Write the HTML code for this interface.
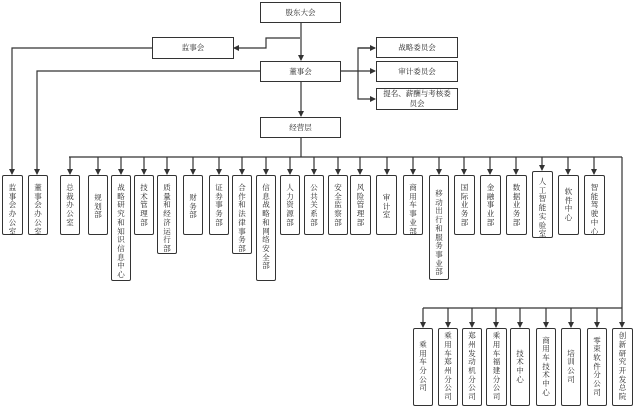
<!DOCTYPE html>
<html><head><meta charset="utf-8"><style>
body{margin:0;background:#fff;}
#c{position:relative;width:634px;height:417px;overflow:hidden;font-family:"Liberation Serif","Noto Serif CJK SC",serif;color:#222;}
.h{position:absolute;border:1.3px solid #333;box-sizing:border-box;background:#fff;font-size:7.5px;display:flex;align-items:center;justify-content:center;text-align:center;line-height:10px;}
.v{position:absolute;border:1.3px solid #333;border-radius:2px;box-sizing:border-box;background:#fff;font-size:7.5px;line-height:8.7px;padding-top:8px;text-align:center;white-space:nowrap;display:flex;flex-direction:column;align-items:center;justify-content:flex-start;}
.b{justify-content:center;padding-top:0;}
svg{position:absolute;left:0;top:0;}
</style></head><body><div id="c">
<svg width="634" height="417">
<defs><marker id="a" markerWidth="6" markerHeight="6" refX="5" refY="3" orient="auto" markerUnits="userSpaceOnUse"><path d="M0,0L6,3L0,6z" fill="#333"/></marker></defs>
<g stroke="#333" stroke-width="1.2" fill="none">
<line x1="301" y1="23" x2="301" y2="60" marker-end="url(#a)"/>
<polyline points="300,38 266,38 266,48 234,48" marker-end="url(#a)"/>
<polyline points="152,48 12,48 12,174" marker-end="url(#a)"/>
<polyline points="260,71 37,71 37,174" marker-end="url(#a)"/>
<line x1="301" y1="82" x2="301" y2="116" marker-end="url(#a)"/>
<line x1="341" y1="71" x2="375" y2="71" marker-end="url(#a)"/>
<polyline points="375,48 358,48 358,99 375,99" marker-end="url(#a)"/>
<line x1="358" y1="48" x2="375" y2="48" marker-end="url(#a)"/>
<polyline points="301,138 301,157"/>
<line x1="69" y1="157" x2="622" y2="157"/>
<line x1="622" y1="157" x2="622" y2="308"/>
<line x1="423" y1="308" x2="622" y2="308"/>
</g>
<g stroke="#333" stroke-width="1.2" marker-end="url(#a)">
<line x1="70" y1="157" x2="70" y2="174"/><line x1="98" y1="157" x2="98" y2="174"/><line x1="121" y1="157" x2="121" y2="174"/><line x1="144" y1="157" x2="144" y2="174"/><line x1="167" y1="157" x2="167" y2="174"/><line x1="193" y1="157" x2="193" y2="174"/><line x1="219" y1="157" x2="219" y2="174"/><line x1="242" y1="157" x2="242" y2="174"/><line x1="266" y1="157" x2="266" y2="174"/><line x1="290" y1="157" x2="290" y2="174"/><line x1="314" y1="157" x2="314" y2="174"/><line x1="338" y1="157" x2="338" y2="174"/><line x1="360" y1="157" x2="360" y2="174"/><line x1="387" y1="157" x2="387" y2="174"/><line x1="413" y1="157" x2="413" y2="174"/><line x1="439" y1="157" x2="439" y2="174"/><line x1="464" y1="157" x2="464" y2="174"/><line x1="490" y1="157" x2="490" y2="174"/><line x1="516" y1="157" x2="516" y2="174"/><line x1="542" y1="157" x2="542" y2="170"/><line x1="568" y1="157" x2="568" y2="174"/><line x1="594" y1="157" x2="594" y2="174"/>
<line x1="423" y1="308" x2="423" y2="327"/><line x1="448" y1="308" x2="448" y2="327"/><line x1="472" y1="308" x2="472" y2="327"/><line x1="496" y1="308" x2="496" y2="327"/><line x1="520" y1="308" x2="520" y2="327"/><line x1="546" y1="308" x2="546" y2="327"/><line x1="571" y1="308" x2="571" y2="327"/><line x1="597" y1="308" x2="597" y2="327"/><line x1="622" y1="308" x2="622" y2="327"/>
</g>
</svg>
<div class="h" style="left:260px;top:2px;width:81px;height:21px">股东大会</div>
<div class="h" style="left:152px;top:37px;width:82px;height:22px">监事会</div>
<div class="h" style="left:260px;top:61px;width:81px;height:21px">董事会</div>
<div class="h" style="left:260px;top:117px;width:81px;height:21px">经营层</div>
<div class="h" style="left:376px;top:37px;width:82px;height:21px">战略委员会</div>
<div class="h" style="left:376px;top:61px;width:82px;height:21px">审计委员会</div>
<div class="h" style="left:376px;top:88px;width:82px;height:22px;padding:0 6px">提名、薪酬与考核委员会</div>

<div class="v" style="left:2px;top:175px;width:21px;height:60px"><div>监<br>事<br>会<br>办<br>公<br>室</div></div>
<div class="v" style="left:28px;top:175px;width:20px;height:60px"><div>董<br>事<br>会<br>办<br>公<br>室</div></div>
<div class="v" style="left:60px;top:175px;width:20px;height:60px"><div>总<br>裁<br>办<br>公<br>室</div></div>
<div class="v" style="left:88px;top:175px;width:20px;height:60px;padding-top:18px"><div>规<br>划<br>部</div></div>
<div class="v" style="left:111px;top:175px;width:20px;height:106px"><div>战<br>略<br>研<br>究<br>和<br>知<br>识<br>信<br>息<br>中<br>心</div></div>
<div class="v" style="left:134px;top:175px;width:20px;height:60px"><div>技<br>术<br>管<br>理<br>部</div></div>
<div class="v" style="left:157px;top:175px;width:20px;height:79px"><div>质<br>量<br>和<br>经<br>济<br>运<br>行<br>部</div></div>
<div class="v" style="left:183px;top:175px;width:20px;height:60px;padding-top:18px"><div>财<br>务<br>部</div></div>
<div class="v" style="left:209px;top:175px;width:20px;height:60px"><div>证<br>券<br>事<br>务<br>部</div></div>
<div class="v" style="left:232px;top:175px;width:20px;height:79px"><div>合<br>作<br>和<br>法<br>律<br>事<br>务<br>部</div></div>
<div class="v" style="left:256px;top:175px;width:20px;height:106px"><div>信<br>息<br>战<br>略<br>和<br>网<br>络<br>安<br>全<br>部</div></div>
<div class="v" style="left:280px;top:175px;width:20px;height:60px"><div>人<br>力<br>资<br>源<br>部</div></div>
<div class="v" style="left:304px;top:175px;width:20px;height:60px"><div>公<br>共<br>关<br>系<br>部</div></div>
<div class="v" style="left:328px;top:175px;width:20px;height:60px"><div>安<br>全<br>监<br>察<br>部</div></div>
<div class="v" style="left:350px;top:175px;width:21px;height:60px"><div>风<br>险<br>管<br>理<br>部</div></div>
<div class="v" style="left:376px;top:175px;width:21px;height:60px;padding-top:18px"><div>审<br>计<br>室</div></div>
<div class="v" style="left:403px;top:175px;width:20px;height:60px"><div>商<br>用<br>车<br>事<br>业<br>部</div></div>
<div class="v" style="left:429px;top:175px;width:20px;height:105px;padding-top:14px"><div>移<br>动<br>出<br>行<br>和<br>服<br>务<br>事<br>业<br>部</div></div>
<div class="v" style="left:454px;top:175px;width:21px;height:60px"><div>国<br>际<br>业<br>务<br>部</div></div>
<div class="v" style="left:480px;top:175px;width:21px;height:60px"><div>金<br>融<br>事<br>业<br>部</div></div>
<div class="v" style="left:506px;top:175px;width:21px;height:60px"><div>数<br>据<br>业<br>务<br>部</div></div>
<div class="v" style="left:532px;top:171px;width:21px;height:67px;padding-top:6px"><div>人<br>工<br>智<br>能<br>实<br>验<br>室</div></div>
<div class="v" style="left:558px;top:175px;width:21px;height:60px;padding-top:12px"><div>软<br>件<br>中<br>心</div></div>
<div class="v" style="left:584px;top:175px;width:21px;height:60px"><div>智<br>能<br>驾<br>驶<br>中<br>心</div></div>

<div class="v b" style="left:413px;top:328px;width:20px;height:78px"><div>乘<br>用<br>车<br>分<br>公<br>司</div></div>
<div class="v b" style="left:438px;top:328px;width:20px;height:78px"><div>乘<br>用<br>车<br>郑<br>州<br>分<br>公<br>司</div></div>
<div class="v b" style="left:462px;top:328px;width:20px;height:78px"><div>郑<br>州<br>发<br>动<br>机<br>分<br>公<br>司</div></div>
<div class="v b" style="left:486px;top:328px;width:21px;height:78px"><div>乘<br>用<br>车<br>福<br>建<br>分<br>公<br>司</div></div>
<div class="v b" style="left:510px;top:328px;width:20px;height:78px"><div>技<br>术<br>中<br>心</div></div>
<div class="v b" style="left:536px;top:328px;width:20px;height:78px"><div>商<br>用<br>车<br>技<br>术<br>中<br>心</div></div>
<div class="v b" style="left:561px;top:328px;width:20px;height:78px"><div>培<br>训<br>公<br>司</div></div>
<div class="v b" style="left:587px;top:328px;width:20px;height:78px"><div>零<br>束<br>软<br>件<br>分<br>公<br>司</div></div>
<div class="v b" style="left:612px;top:328px;width:21px;height:78px"><div>创<br>新<br>研<br>究<br>开<br>发<br>总<br>院</div></div>
</div></body></html>
